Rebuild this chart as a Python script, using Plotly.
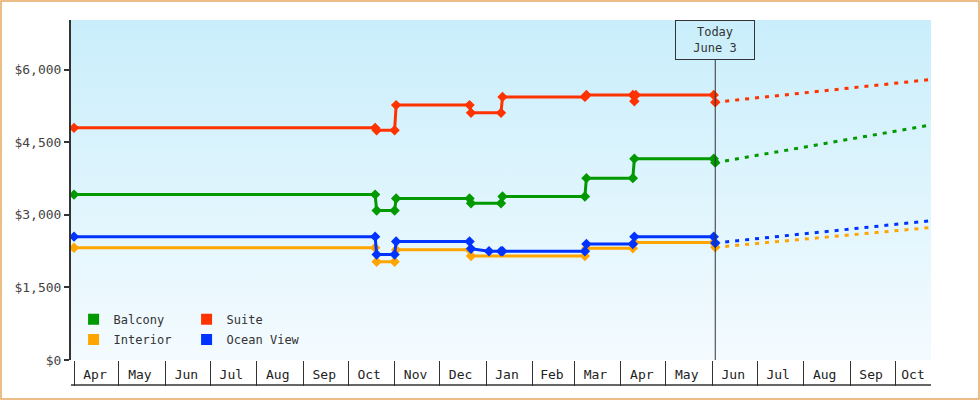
import plotly.graph_objects as go

# step-price history (date, price) per cabin type
suite_dates = ["2024-04-01", "2024-10-19", "2024-10-20", "2024-11-01", "2024-11-02", "2024-12-21", "2024-12-22",
               "2025-01-11", "2025-01-12", "2025-03-08", "2025-03-09", "2025-04-09", "2025-04-10", "2025-04-11",
               "2025-06-02", "2025-06-03"]
suite_vals = [4800, 4800, 4750, 4750, 5270, 5270, 5110, 5110, 5440, 5440, 5480, 5480, 5350, 5480, 5480, 5330]

balcony_dates = ["2024-04-01", "2024-10-19", "2024-10-20", "2024-11-01", "2024-11-02", "2024-12-21", "2024-12-22",
                 "2025-01-11", "2025-01-12", "2025-03-08", "2025-03-09", "2025-04-09", "2025-04-10", "2025-06-02",
                 "2025-06-03"]
balcony_vals = [3420, 3420, 3090, 3090, 3340, 3340, 3240, 3240, 3380, 3380, 3760, 3760, 4160, 4160, 4080]

ocean_dates = ["2024-04-01", "2024-10-19", "2024-10-20", "2024-11-01", "2024-11-02", "2024-12-21", "2024-12-22",
               "2025-01-03", "2025-01-11", "2025-01-12", "2025-03-08", "2025-03-09", "2025-04-09", "2025-04-10",
               "2025-06-02", "2025-06-03"]
ocean_vals = [2550, 2550, 2180, 2180, 2450, 2450, 2300, 2250, 2250, 2250, 2250, 2400, 2400, 2550, 2550, 2420]

interior_dates = ["2024-04-01", "2024-10-19", "2024-10-20", "2024-11-01", "2024-11-02", "2024-12-21", "2024-12-22",
                  "2025-03-08", "2025-03-09", "2025-04-09", "2025-04-10", "2025-06-02", "2025-06-03"]
interior_vals = [2320, 2320, 2030, 2030, 2280, 2280, 2150, 2150, 2310, 2310, 2430, 2430, 2330]

forecast_dates = ["2025-06-03", "2025-10-25"]
forecast = {"Suite": [5330, 5800], "Balcony": [4080, 4860], "Ocean View": [2420, 2880], "Interior": [2330, 2740]}

month_mids = ["2024-04-15", "2024-05-15", "2024-06-15", "2024-07-15", "2024-08-15", "2024-09-15", "2024-10-15",
              "2024-11-15", "2024-12-15", "2025-01-15", "2025-02-14", "2025-03-15", "2025-04-15", "2025-05-15",
              "2025-06-15", "2025-07-15", "2025-08-15", "2025-09-15", "2025-10-13"]
month_labels = ["Apr", "May", "Jun", "Jul", "Aug", "Sep", "Oct", "Nov", "Dec", "Jan", "Feb", "Mar", "Apr", "May",
                "Jun", "Jul", "Aug", "Sep", "Oct"]

x_start, x_end = "2024-03-30", "2025-10-25"
y_max = 7030
today = "2025-06-03"

colors = {"Balcony": "#009900", "Suite": "#ff3300", "Interior": "#ffa500", "Ocean View": "#0033ff"}
series = {"Suite": (suite_dates, suite_vals), "Balcony": (balcony_dates, balcony_vals),
          "Interior": (interior_dates, interior_vals), "Ocean View": (ocean_dates, ocean_vals)}

FONT = "DejaVu Sans Mono"
fig = go.Figure()

# gradient background
fig.add_trace(go.Scatter(x=[x_start, x_end, x_end, x_start], y=[0, 0, y_max, y_max], fill="toself",
                         mode="none", hoverinfo="skip", showlegend=False,
                         fillgradient=dict(type="vertical", colorscale=[[0, "#f4fbff"], [1, "#c9eefb"]])))

for name in ["Interior", "Ocean View", "Balcony", "Suite"]:
    d, v = series[name]
    fig.add_trace(go.Scatter(x=d, y=v, mode="lines+markers", showlegend=False,
                             line=dict(color=colors[name], width=3),
                             marker=dict(color=colors[name], size=8, symbol="diamond")))
    fig.add_trace(go.Scatter(x=forecast_dates, y=forecast[name], mode="lines", showlegend=False,
                             line=dict(color=colors[name], width=3, dash="4px,6px")))

# legend entries
for name, lg in [("Balcony", "legend"), ("Suite", "legend"), ("Interior", "legend2"), ("Ocean View", "legend2")]:
    fig.add_trace(go.Scatter(x=[None], y=[None], mode="markers", name=name, legend=lg,
                             marker=dict(color=colors[name], size=11, symbol="square")))

legend_style = dict(orientation="h", bgcolor="rgba(0,0,0,0)", font=dict(family=FONT, size=12, color="#333"),
                    entrywidth=68, itemwidth=30, xanchor="left", yanchor="middle", x=0.003,
                    tracegroupgap=0, itemclick=False)
fig.update_layout(
    width=980, height=400,
    margin=dict(l=71, r=49, t=20, b=40),
    paper_bgcolor="white", plot_bgcolor="white",
    font=dict(family=FONT, size=12, color="#333"),
    legend=dict(legend_style, y=0.12),
    legend2=dict(legend_style, y=0.06),
    xaxis=dict(type="date", range=[x_start, x_end], tickvals=month_mids, ticktext=month_labels,
               ticks="", showgrid=False, zeroline=False, showline=False,
               minor=dict(ticks="outside", ticklen=25, tickcolor="#333", tickwidth=1,
                          dtick="M1", tick0="2024-04-01", showgrid=False),
               tickfont=dict(family=FONT, size=13, color="#222"), ticklabelstandoff=5),
    yaxis=dict(range=[0, y_max], tickvals=[0, 1500, 3000, 4500, 6000],
               ticktext=["$0", "$1,500", "$3,000", "$4,500", "$6,000"],
               ticks="outside", ticklen=5, tickcolor="#333", tickwidth=2,
               showgrid=False, zeroline=False, showline=True, linecolor="#333", linewidth=2,
               tickfont=dict(family=FONT, size=13, color="#444")),
    shapes=[
        dict(type="line", xref="paper", yref="paper", x0=0, x1=1, y0=-25 / 340, y1=-25 / 340,
             line=dict(color="#333", width=1.5)),
        dict(type="line", xref="x", yref="paper", x0=today, x1=today, y0=0, y1=300 / 340,
             line=dict(color="#333", width=1)),
        dict(type="rect", xref="paper", yref="paper", x0=-70 / 860, x1=1 + 48 / 860,
             y0=-39 / 340, y1=1 + 19 / 340, line=dict(color="#e8a860", width=1.5)),
    ],
    annotations=[dict(x=today, xref="x", y=1, yref="paper", yanchor="top", showarrow=False,
                      text="Today<br>June 3", font=dict(family=FONT, size=12, color="#333"),
                      bordercolor="#333", borderwidth=1, borderpad=4, bgcolor="rgba(0,0,0,0)",
                      width=70)],
)

fig.write_html("out.html", config={"displayModeBar": False})

# drop the default page margin so the figure sits at the window's corner
with open("out.html", encoding="utf-8") as f:
    page = f.read()
page = page.replace("<body>", "<body style=\"margin:0\">", 1)
with open("out.html", "w", encoding="utf-8") as f:
    f.write(page)
